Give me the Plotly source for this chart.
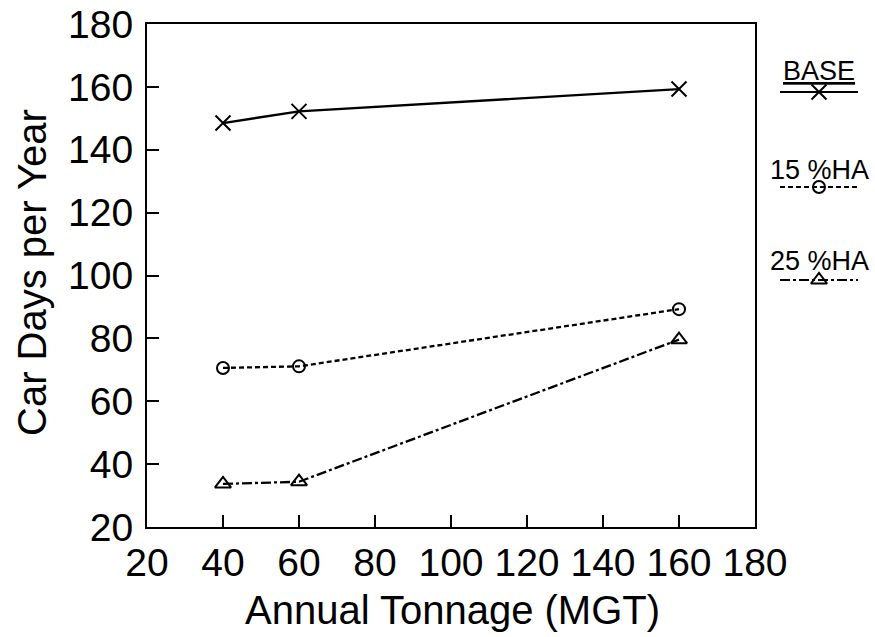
import plotly.graph_objects as go

tonnage = [40, 60, 160]
base = [148.5, 152.2, 159.3]
ha15 = [70.6, 71.1, 89.3]
ha25 = [33.7, 34.4, 79.6]

series_names = ["BASE", "15 %HA", "25 %HA"]
series_values = [base, ha15, ha25]
series_symbols = ["x-thin-open", "circle-open", "triangle-up-open"]
series_sizes = [15, 12, 14]
series_dash = ["solid", "5px,3px", "10px,3px,3px,3px"]

x_ticks = [20, 40, 60, 80, 100, 120, 140, 160, 180]
y_ticks = [20, 40, 60, 80, 100, 120, 140, 160, 180]

x_title = "Annual Tonnage (MGT)"
y_title = "Car Days per Year"

# legend sample placement (legend-axis units: y in pixel rows)
legend_line_y = [92, 187, 280]
legend_label_y = [71, 170, 261]

FONT = "Liberation Sans, Arial, sans-serif"
W, H = 875, 637
ML, MR, MT, MB = 147, 0, 24, 110
plot_w = W - ML - MR
plot_h = H - MT - MB
main_right = 755

def px_x(p):
    return (p - ML) / plot_w

def px_y(p):
    return (H - MB - p) / plot_h

fig = go.Figure()

for name, vals, sym, sz, dash in zip(series_names, series_values, series_symbols, series_sizes, series_dash):
    fig.add_trace(go.Scatter(
        x=tonnage, y=vals, mode="lines+markers", name=name,
        line=dict(color="black", width=2.3, dash=dash),
        marker=dict(symbol=sym, size=sz, color="black", line=dict(color="black", width=2)),
        showlegend=False, xaxis="x", yaxis="y", cliponaxis=False,
    ))

for name, ly, sym, sz, dash in zip(series_names, legend_line_y, series_symbols, series_sizes, series_dash):
    fig.add_trace(go.Scatter(
        x=[0, 1], y=[ly, ly], mode="lines",
        line=dict(color="black", width=1.8, dash=dash),
        showlegend=False, xaxis="x2", yaxis="y2", hoverinfo="skip",
    ))
    fig.add_trace(go.Scatter(
        x=[0.5], y=[ly], mode="markers",
        marker=dict(symbol=sym, size=sz, color="black", line=dict(color="black", width=2)),
        showlegend=False, xaxis="x2", yaxis="y2", hoverinfo="skip", cliponaxis=False,
    ))

for name, ly in zip(series_names, legend_label_y):
    txt = "<u>" + name + "</u>" if name == "BASE" else name
    fig.add_annotation(x=0.5, y=ly, xref="x2", yref="y2", text=txt, showarrow=False,
                       font=dict(family=FONT, size=27, color="black"),
                       xanchor="center", yanchor="middle")

fig.add_annotation(x=px_x(452), y=px_y(610), xref="paper", yref="paper", text=x_title,
                   showarrow=False, font=dict(family=FONT, size=40, color="black"),
                   xanchor="center", yanchor="middle")
fig.add_annotation(x=px_x(32), y=px_y(273), xref="paper", yref="paper", text=y_title,
                   showarrow=False, textangle=-90, font=dict(family=FONT, size=40, color="black"),
                   xanchor="center", yanchor="middle")

axis_common = dict(
    showline=True, linecolor="black", linewidth=2, mirror=True,
    ticks="inside", ticklen=12, tickwidth=1.5, tickcolor="black",
    showgrid=False, zeroline=False, automargin=False,
    tickfont=dict(family=FONT, size=39, color="black"),
)

fig.update_layout(
    width=W, height=H,
    margin=dict(l=ML, r=MR, t=MT, b=MB, autoexpand=False),
    paper_bgcolor="white", plot_bgcolor="white",
    xaxis=dict(range=[20, 180], tickvals=x_ticks, domain=[0, px_x(main_right)], **axis_common),
    yaxis=dict(range=[20, 180], tickvals=y_ticks, ticklabelstandoff=4, **axis_common),
    xaxis2=dict(domain=[px_x(780), px_x(858)], range=[0, 1], visible=False, anchor="y2"),
    yaxis2=dict(domain=[0, 1], range=[H - MB, MT], visible=False, anchor="x2"),
    font=dict(family=FONT, color="black"),
)

fig.write_html("out.html")
